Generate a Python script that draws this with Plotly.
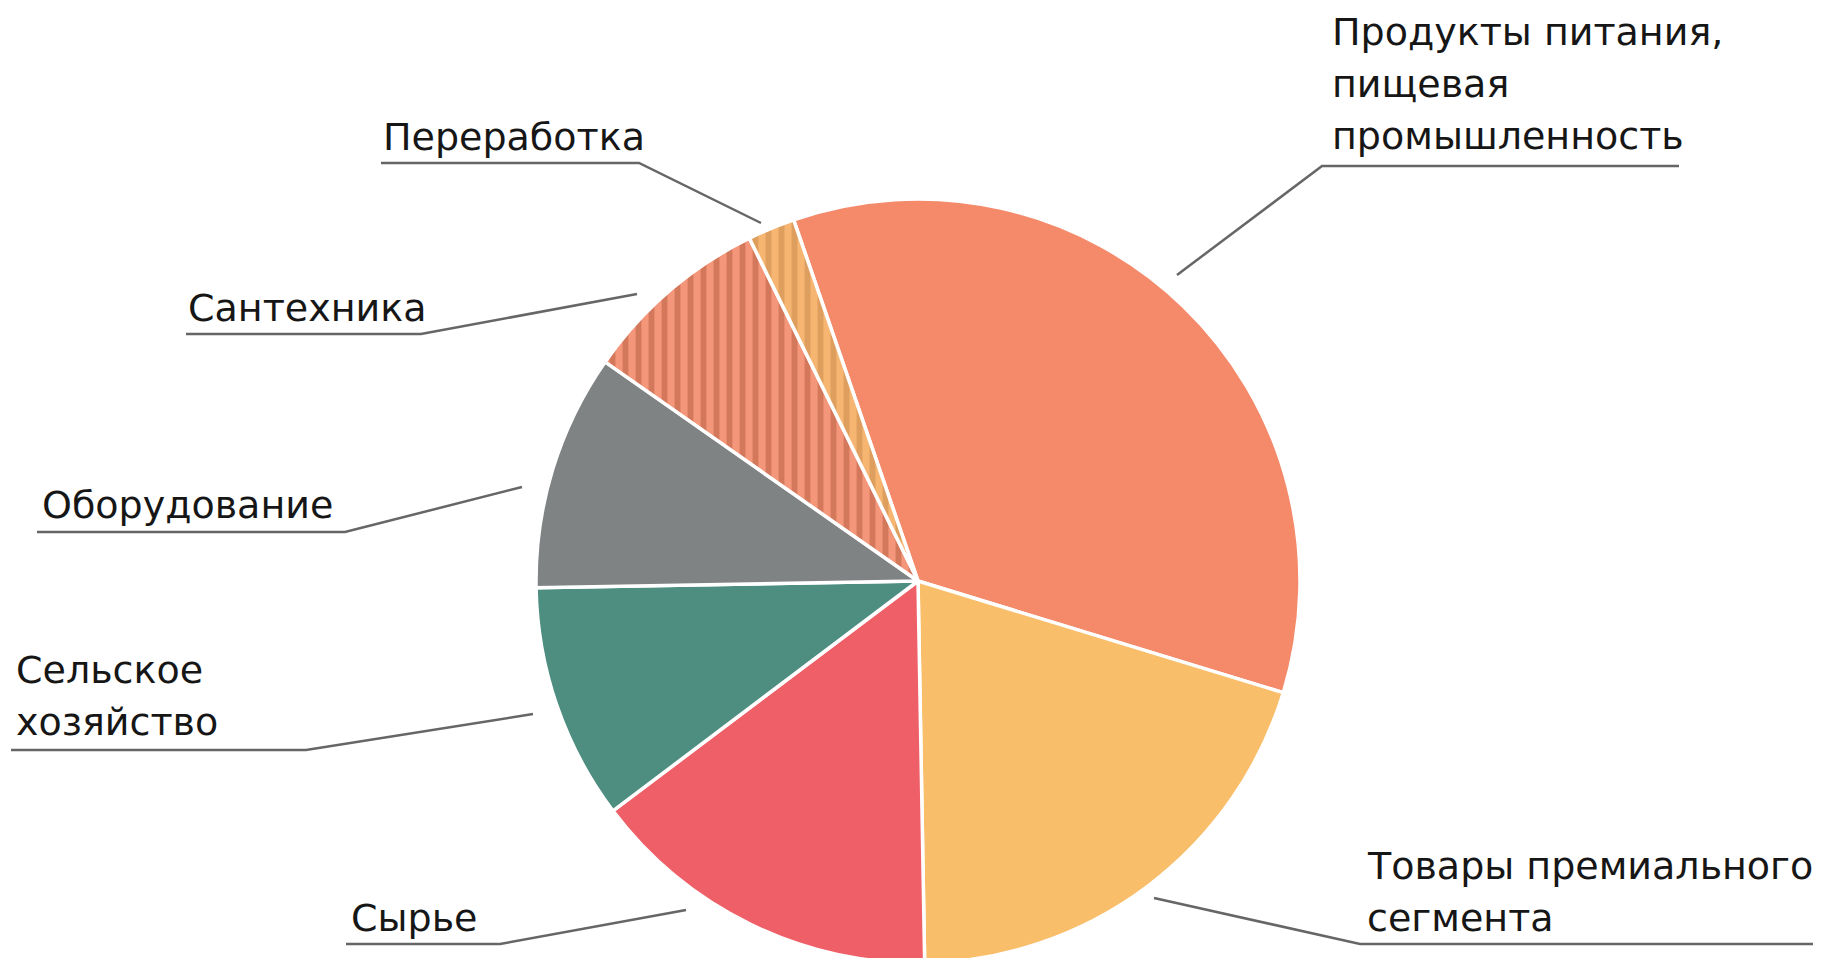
import plotly.graph_objects as go

# Page is rendered with an 8px body margin; figure is offset by it.
OFF = 8
W, H = 1822, 1000

categories = [
    "Продукты питания,<br>пищевая<br>промышленность",
    "Товары премиального<br>сегмента",
    "Сырье",
    "Сельское<br>хозяйство",
    "Оборудование",
    "Сантехника",
    "Переработка",
]
values = [35, 20, 15, 10, 10, 8, 2]
colors = ["#F48A6A", "#F9BE6A", "#EF5F67", "#4D8E80", "#808384", "#F4967A", "#F6B672"]
patterns = ["", "", "", "", "", "|", "|"]
pattern_fg = ["#F48A6A", "#F9BE6A", "#EF5F67", "#4D8E80", "#808384", "#D4785C", "#DE9F5E"]

# label placement in page pixels: text x, first-line center y, underline y, underline x-range, slant end
label_layout = [
    dict(tx=1330, ty=32, uy=166, ux0=1322, ux1=1679, sx=1177, sy=275, side="right"),
    dict(tx=1365, ty=866, uy=944, ux0=1360, ux1=1813, sx=1154, sy=898, side="right"),
    dict(tx=349, ty=918, uy=944, ux0=346, ux1=500, sx=686, sy=910, side="left"),
    dict(tx=14, ty=670, uy=750, ux0=11, ux1=306, sx=533, sy=714, side="left"),
    dict(tx=40, ty=505, uy=532, ux0=37, ux1=345, sx=522, sy=487, side="left"),
    dict(tx=186, ty=308, uy=334, ux0=186, ux1=421, sx=637, sy=294, side="left"),
    dict(tx=381, ty=137, uy=163, ux0=381, ux1=639, sx=761, sy=223, side="left"),
]
LINE_GAP = 52

cx, cy, r = 918, 581, 382  # pie center / radius in page pixels


def px(x):
    return (x - OFF) / W


def py(y):
    return 1 - (y - OFF) / H


fig = go.Figure(go.Pie(
    labels=[c.replace("<br>", " ") for c in categories],
    values=values,
    sort=False,
    direction="clockwise",
    rotation=-19,
    textinfo="none",
    hoverinfo="label+percent",
    marker=dict(
        colors=colors,
        line=dict(color="white", width=3.5),
        pattern=dict(shape=patterns, fgcolor=pattern_fg, bgcolor=colors,
                     size=13, solidity=0.45),
    ),
    domain=dict(x=[px(cx - r), px(cx + r)], y=[py(cy + r), py(cy - r)]),
    showlegend=False,
))

annotations = []
shapes = []
for cat, L in zip(categories, label_layout):
    for i, line in enumerate(cat.split("<br>")):
        annotations.append(dict(
            x=px(L["tx"]), y=py(L["ty"] + i * LINE_GAP), xref="paper", yref="paper",
            text=line, showarrow=False, xanchor="left", yanchor="middle", align="left",
            font=dict(family="DejaVu Sans", size=38, color="#161616"),
        ))
    if L["side"] == "right":
        path = f"M {px(L['sx'])} {py(L['sy'])} L {px(L['ux0'])} {py(L['uy'])} L {px(L['ux1'])} {py(L['uy'])}"
    else:
        path = f"M {px(L['ux0'])} {py(L['uy'])} L {px(L['ux1'])} {py(L['uy'])} L {px(L['sx'])} {py(L['sy'])}"
    shapes.append(dict(type="path", path=path, xref="paper", yref="paper",
                       line=dict(color="#666666", width=2.5)))

fig.update_layout(
    width=W, height=H,
    margin=dict(l=0, r=0, t=0, b=0),
    paper_bgcolor="white", plot_bgcolor="white",
    annotations=annotations, shapes=shapes,
)

fig.write_html("out.html")
